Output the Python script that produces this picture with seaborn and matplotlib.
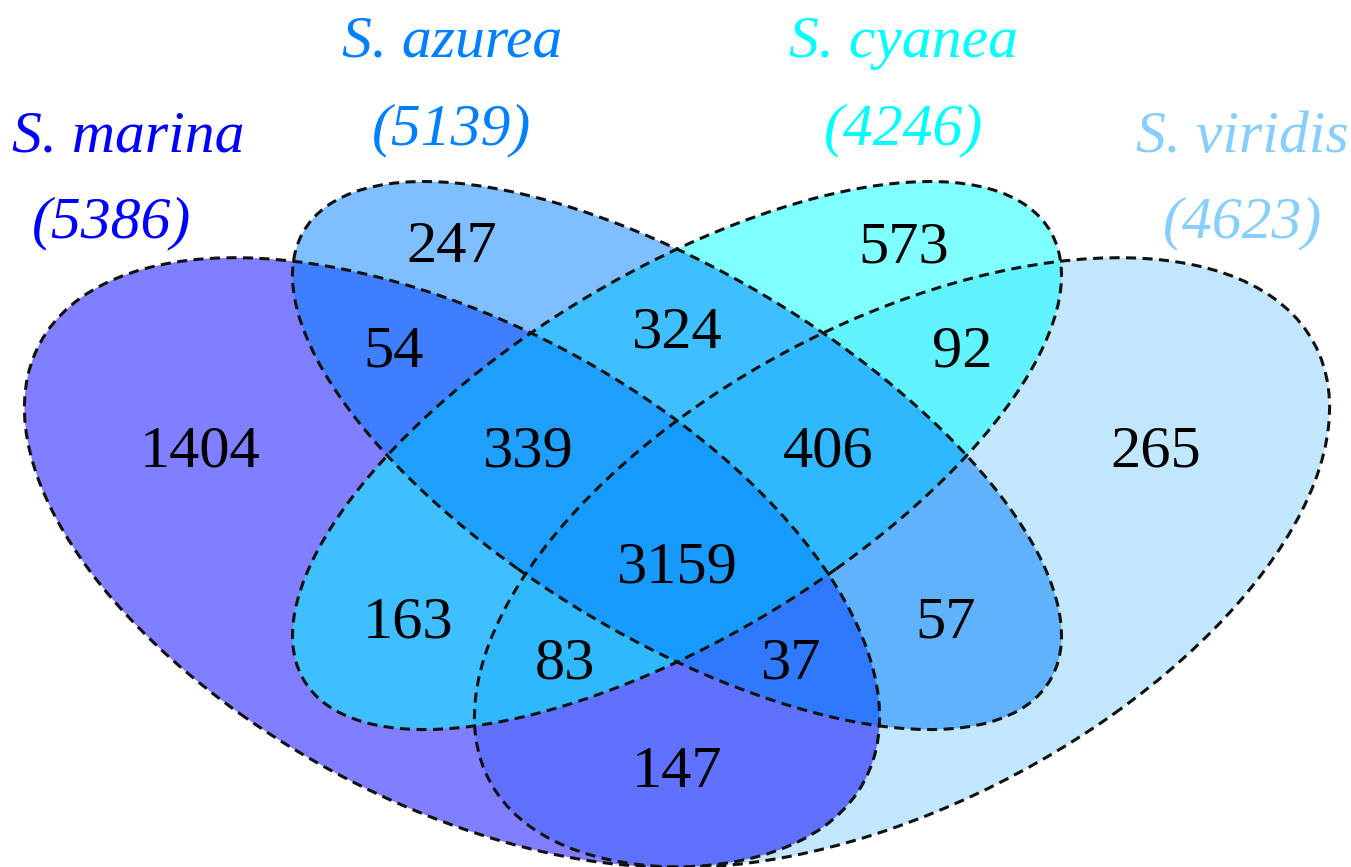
import matplotlib
matplotlib.use("Agg")
import matplotlib.pyplot as plt
from matplotlib.patches import Ellipse
import seaborn as sns

# the four sets
species = ["S. marina", "S. azurea", "S. cyanea", "S. viridis"]
totals = [5386, 5139, 4246, 4623]
set_colors = ["#0000FF", "#0080FF", "#00FFFF", "#87CEFA"]

# counts of each region of the 4-set diagram
region_counts = [1404, 247, 573, 265, 54, 324, 92, 339, 406, 3159, 163, 57, 83, 37, 147]

# --- layout (unit square, like VennDiagram) ---
ell_x = [0.35, 0.50, 0.50, 0.65]
ell_y = [0.47, 0.57, 0.57, 0.47]
ell_a = [0.35, 0.33, 0.33, 0.35]
ell_b = [0.20, 0.15, 0.15, 0.20]
ell_rot = [-45, -45, 45, 45]
draw_order = [3, 0, 2, 1]

region_x = [0.182, 0.350, 0.651, 0.819, 0.311, 0.500, 0.690, 0.401, 0.601, 0.500,
            0.321, 0.679, 0.425, 0.576, 0.500]
region_y = [0.560, 0.751, 0.751, 0.560, 0.653, 0.671, 0.653, 0.560, 0.560, 0.451,
            0.400, 0.400, 0.361, 0.361, 0.260]

name_x = [0.134, 0.350, 0.651, 0.877]
name_y = [0.854, 0.943, 0.943, 0.854]
total_x = [0.123, 0.350, 0.651, 0.877]
total_y = [0.774, 0.861, 0.861, 0.774]

sns.set_theme(style="white")
plt.rcParams["font.family"] = ["Liberation Serif", "DejaVu Serif"]

fig = plt.figure(figsize=(13.51, 8.67), dpi=100)
ax = fig.add_axes([0, 0, 1, 1])

for i in draw_order:
    ax.add_patch(Ellipse((ell_x[i], ell_y[i]), 2 * ell_a[i], 2 * ell_b[i], angle=ell_rot[i],
                         facecolor=set_colors[i], alpha=0.5, edgecolor="none"))
# dashed outlines on top
for i in draw_order:
    ax.add_patch(Ellipse((ell_x[i], ell_y[i]), 2 * ell_a[i], 2 * ell_b[i], angle=ell_rot[i],
                         facecolor="none", edgecolor="#111111", lw=2.2, linestyle=(0, (3.3, 2.1))))

for n, x, y in zip(region_counts, region_x, region_y):
    ax.text(x, y, str(n), ha="center", va="baseline", fontsize=43.5, color="black")

for i in range(4):
    ax.text(name_x[i], name_y[i], species[i], ha="center", va="baseline",
            fontsize=43, style="italic", color=set_colors[i])
    ax.text(total_x[i], total_y[i], f"({totals[i]})", ha="center", va="baseline",
            fontsize=43, style="italic", color=set_colors[i])

ax.set_xlim(0.0487, 0.9493)
ax.set_ylim(0.1851, 0.9961)
ax.axis("off")

fig.savefig("out.png", dpi=100, facecolor="white")
